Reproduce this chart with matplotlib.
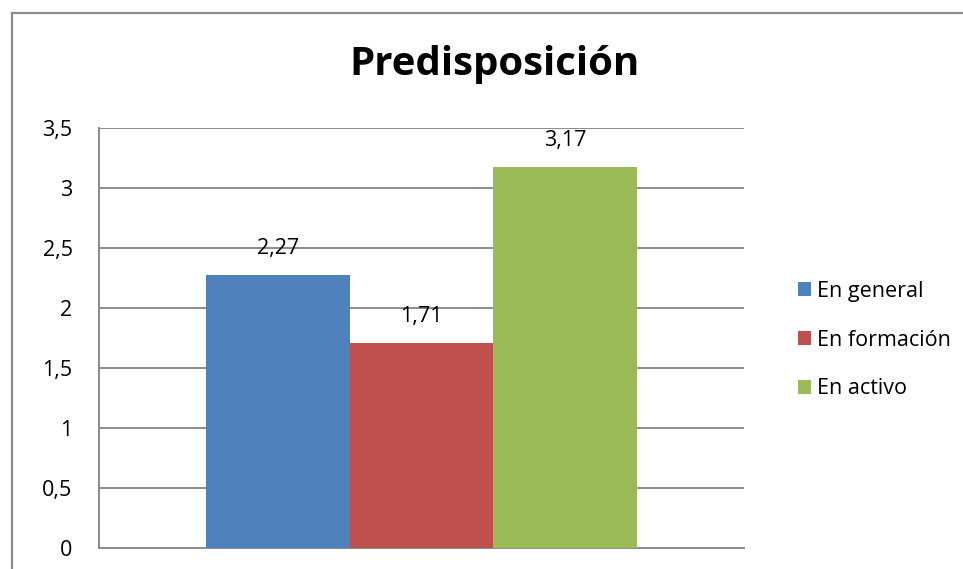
import matplotlib
matplotlib.use("Agg")
import matplotlib.pyplot as plt
from matplotlib.lines import Line2D

series = ["En general", "En formación", "En activo"]
values = [2.27, 1.71, 3.17]
colors = ["#4F81BD", "#C0504D", "#9BBB59"]
yticks = [0, 0.5, 1, 1.5, 2, 2.5, 3, 3.5]
ytick_labels = ["0", "0,5", "1", "1,5", "2", "2,5", "3", "3,5"]
title = "Predisposición"

plt.rcParams['font.family'] = ['Open Sans', 'DejaVu Sans']

fig = plt.figure(figsize=(9.63, 5.69), dpi=100)
# outer chart border (only top and left visible within the image)
ytop = (569 - 13) / 569
xl = 11.5 / 963
fig.add_artist(Line2D([xl, 1.01], [ytop, ytop], transform=fig.transFigure, color="#8c8c8c", lw=1.6))
fig.add_artist(Line2D([xl, xl], [-0.01, ytop], transform=fig.transFigure, color="#8c8c8c", lw=1.6))

ax = fig.add_axes([99/963, (569-547.7)/569, 645/963, 420/569])
w = 431/645/3
offsets = [-w, 0, w]
for s, v, c, o in zip(series, values, colors, offsets):
    ax.bar(o, v, width=w, color=c, label=s, zorder=3)
    ax.annotate(f"{v:.2f}".replace(".", ","), (o, v), xytext=(0, 19), textcoords="offset points",
                ha="center", va="center", fontsize=15.5, color="black")

ax.set_xlim(-0.5, 0.5)
ax.set_ylim(0, 3.5)
ax.set_yticks(yticks)
ax.set_yticklabels(ytick_labels, fontsize=15.5)
ax.set_xticks([])
ax.tick_params(axis="y", length=0, pad=19)
ax.grid(axis="y", color="#8c8c8c", linewidth=1.4, zorder=0)
for sp in ["top", "right"]:
    ax.spines[sp].set_visible(False)
ax.spines["left"].set_color("#8c8c8c")
ax.spines["left"].set_linewidth(1.4)
ax.spines["bottom"].set_color("#8c8c8c")
ax.spines["bottom"].set_linewidth(1.4)

fig.text(494/963, (569-64)/569, title, ha="center", va="center", fontsize=29, fontweight="bold")

leg = ax.legend(loc="center left", bbox_to_anchor=(787/963, (569-340)/569), bbox_transform=fig.transFigure,
                frameon=False, fontsize=15.5, handlelength=0.6, handleheight=0.6, handletextpad=0.3,
                labelspacing=1.3, borderpad=0)

fig.savefig("out.png", dpi=100)
